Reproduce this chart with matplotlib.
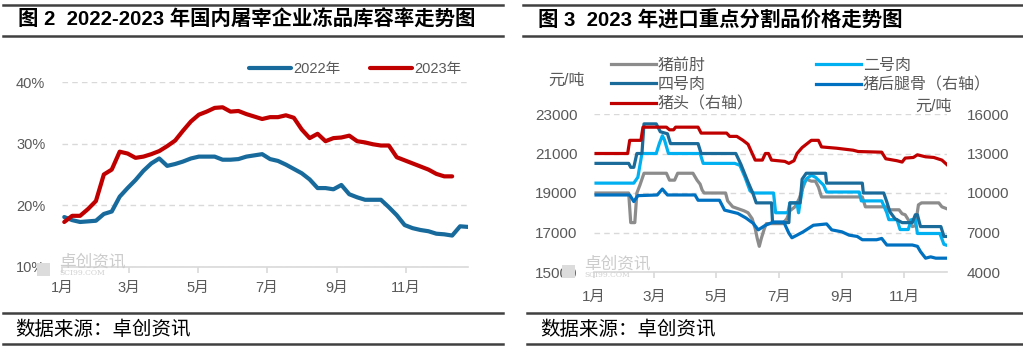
import numpy as np
import matplotlib.pyplot as plt
from matplotlib.lines import Line2D
from matplotlib.patches import Rectangle

plt.rcParams['font.family'] = ['Liberation Sans', 'Noto Sans CJK SC']

# 图2 周度冻品库容率(%)，第1周约为1月3日
first_day = 3
rate_2022 = [18.1, 17.6, 17.3, 17.4, 17.5, 18.6, 19.0, 21.4, 22.8, 24.1,
             25.6, 26.8, 27.6, 26.4, 26.7, 27.1, 27.6, 27.9, 27.9, 27.9,
             27.4, 27.4, 27.5, 27.9, 28.1, 28.3, 27.5, 27.2, 26.6, 25.9,
             25.2, 24.2, 22.8, 22.8, 22.6, 23.3, 21.8, 21.3, 20.9, 20.9,
             20.9, 19.7, 18.4, 16.8, 16.3, 16.0, 15.8, 15.4, 15.3, 15.1,
             16.6, 16.5]
rate_2023 = [17.3, 18.3, 18.3, 19.4, 20.7, 25.0, 25.8, 28.7, 28.4, 27.7,
             27.9, 28.3, 28.8, 29.6, 30.5, 32.1, 33.6, 34.7, 35.2, 35.8,
             35.9, 35.2, 35.3, 34.8, 34.4, 34.0, 34.3, 34.3, 34.6, 34.2,
             32.3, 30.9, 31.6, 30.4, 30.9, 31.0, 31.3, 30.4, 30.2, 29.9,
             29.7, 29.7, 27.8, 27.3, 26.8, 26.3, 25.8, 25.1, 24.7, 24.7]

# 图3 价格(元/吨)，x为年内日序
qianzhou_day = [3, 35, 37, 41, 43, 46, 50, 72, 75, 80, 83, 98, 102, 105, 107, 109, 130, 132, 137,
                148, 152, 156, 159, 161, 163, 165, 168, 170, 176, 186, 190, 193, 198, 202, 206,
                209, 214, 218, 221, 224, 264, 267, 287, 290, 300, 303, 306, 309, 313, 316, 319,
                322, 339, 342, 347]
qianzhou = [19000, 19000, 17500, 17500, 19000, 19400, 20000, 20000, 19650, 19650, 20000, 20000,
            19650, 19450, 19150, 19000, 19000, 18600, 18300, 18100, 18000, 17700, 17200, 16700,
            16300, 16700, 17200, 17450, 17450, 17450, 17700, 18100, 18300, 18700, 19300, 19700,
            19600, 19600, 19300, 18800, 18800, 18300, 18300, 18150, 18150, 17950, 17900, 17650,
            17300, 17350, 18400, 18500, 18500, 18300, 18200]

erhao_day = [3, 40, 44, 48, 62, 65, 68, 70, 74, 105, 108, 139, 144, 149, 154, 158, 177, 179, 191,
             193, 200, 201.5, 203, 206, 210, 214, 218, 222, 226, 229, 261, 263, 283, 288, 290,
             298, 301, 309, 312, 316, 318, 340, 344, 347]
erhao = [19500, 19500, 19800, 21000, 21000, 21500, 21900, 21700, 21000, 21000, 20500, 20500,
         20400, 19800, 19100, 19000, 19000, 18000, 18000, 18500, 18500, 18000, 18500, 19450,
         19750, 19900, 19800, 19600, 19400, 19050, 19050, 18600, 18600, 18000, 17650, 17650,
         17150, 17150, 17650, 17650, 16950, 16950, 16400, 16350]

sihao_day = [3, 35, 37, 40, 43, 48, 50, 62, 66, 73, 76, 103, 106, 140, 145, 152, 157, 160, 175,
             176, 192, 193, 203, 205, 209, 228, 229, 264, 265, 285, 288, 291, 296, 303, 313, 316,
             318, 321, 341, 344, 347]
sihao = [20500, 20500, 20300, 20300, 21000, 21000, 22500, 22500, 22100, 22000, 21500, 21500,
         21000, 21000, 20450, 19550, 18950, 18500, 18500, 17500, 17500, 18500, 18500, 19700,
         20000, 20000, 19500, 19500, 19000, 19000, 18550, 18050, 17700, 17500, 17500, 17900,
         17900, 17300, 17300, 16800, 16800]

houtui_day = [3, 36, 40, 44, 63, 68, 73, 100, 103, 124, 129, 142, 150, 157, 162, 169, 177, 187,
              192, 195, 200, 206, 216, 229, 234, 244, 251, 259, 264, 278, 283, 288, 313, 318,
              321, 326, 331, 336, 347]
houtui = [9850, 9850, 9350, 9800, 9850, 10300, 9850, 9850, 9450, 9450, 8700, 8450, 8100, 7700,
          7200, 7550, 7800, 7800, 6950, 6600, 6800, 7050, 7550, 7650, 7200, 7050, 6800, 6700,
          6450, 6450, 6550, 6050, 6050, 5950, 5550, 5050, 5150, 5050, 5050]

zhutou_day = [3, 34, 36, 47, 49, 72, 75, 79, 81, 103, 106, 131, 134, 141, 147, 152, 159, 166,
              169, 172, 175, 188, 192, 197, 200, 205, 214, 221, 224, 239, 255, 260, 283, 287,
              298, 303, 306, 314, 318, 326, 334, 342, 347]
zhutou = [13000, 13000, 14000, 14000, 15000, 15000, 14800, 14800, 15000, 15000, 14550, 14550,
          14300, 14300, 14000, 13700, 12500, 12500, 13000, 13000, 12500, 12400, 12250, 12450,
          13000, 13450, 14000, 14000, 13500, 13400, 13250, 13150, 13100, 12600, 12450, 12350,
          12650, 12700, 12900, 12750, 12700, 12500, 12150]

month_days = [1, 60, 121, 182, 244, 305]
month_labels = ['1月', '3月', '5月', '7月', '9月', '11月']

W, H = 1023, 352
fig = plt.figure(figsize=(W / 100, H / 100), dpi=100)
grey_txt = '#595959'
grid_c = '#d9d9d9'


def style_axis(ax, fs):
    for s in ['top', 'right', 'left']:
        ax.spines[s].set_visible(False)
    ax.spines['bottom'].set_color(grid_c)
    ax.spines['bottom'].set_linewidth(1.2)
    ax.set_xticks(month_days)
    ax.set_xticklabels(month_labels)
    ax.tick_params(axis='x', colors=grid_c, length=4, width=1.2, labelcolor=grey_txt,
                   labelsize=fs, pad=6)
    ax.tick_params(axis='y', length=0, labelcolor=grey_txt, labelsize=fs, pad=12)
    ax.grid(axis='y', color=grid_c, linestyle=(0, (4, 3)), linewidth=1)
    ax.set_axisbelow(True)


# ---------- 图2 ----------
ax1 = fig.add_axes([62 / W, 85 / H, 406 / W, 185 / H])
days22 = [first_day + 7 * i for i in range(len(rate_2022))]
days23 = [first_day + 7 * i for i in range(len(rate_2023))]
ax1.plot(days22, rate_2022, color='#176a9b', lw=3, label='2022年', solid_capstyle='round')
ax1.plot(days23, rate_2023, color='#c00000', lw=3, label='2023年', solid_capstyle='round')
ax1.set_xlim(1, 360)
ax1.set_ylim(10, 40)
ax1.set_yticks([10, 20, 30, 40])
ax1.set_yticklabels(['10%', '20%', '30%', '40%'])
style_axis(ax1, 10.5)
ax1.legend(ncol=2, loc='center', bbox_to_anchor=(355 / W, 1 - 69 / H),
           bbox_transform=fig.transFigure, frameon=False, fontsize=10.5,
           handlelength=2.9, handletextpad=0.15, columnspacing=2.0, labelcolor=grey_txt)

# ---------- 图3 ----------
ax2 = fig.add_axes([594 / W, 80 / H, 353 / W, 158 / H])
ax2r = ax2.twinx()
l1, = ax2.plot(qianzhou_day, qianzhou, color='#8c8c8c', lw=2.3, label='猪前肘')
l2, = ax2.plot(erhao_day, erhao, color='#00b0f0', lw=2.3, label='二号肉')
l3, = ax2.plot(sihao_day, sihao, color='#1a6a9a', lw=2.3, label='四号肉')
l4, = ax2r.plot(houtui_day, houtui, color='#0070c0', lw=2.3, label='猪后腿骨（右轴）')
l5, = ax2r.plot(zhutou_day, zhutou, color='#c00000', lw=2.3, label='猪头（右轴）')
ax2.set_xlim(1, 347)
ax2.set_ylim(15000, 23000)
ax2.set_yticks(range(15000, 23001, 2000))
ax2r.set_ylim(4000, 16000)
ax2r.set_yticks(range(4000, 16001, 3000))
style_axis(ax2, 11)
ax2.tick_params(axis='x', pad=9)
for s in ['top', 'right', 'left', 'bottom']:
    ax2r.spines[s].set_visible(False)
ax2r.tick_params(axis='y', length=0, labelcolor=grey_txt, labelsize=11, pad=14)
ax2.legend(handles=[l1, l3, l5, l2, l4], ncol=2, loc='upper left',
           bbox_to_anchor=(603 / W, 1 - 50 / H), bbox_transform=fig.transFigure,
           frameon=False, fontsize=11.5, handlelength=2.8, handletextpad=0.1,
           columnspacing=3.95, labelspacing=0.25, borderpad=0, labelcolor=grey_txt)
fig.text(585 / W, 1 - 80 / H, '元/吨', ha='right', va='center', fontsize=11.5, color=grey_txt)
fig.text(915 / W, 1 - 106 / H, '元/吨', ha='left', va='center', fontsize=11.5, color=grey_txt)

# ---------- 水印 ----------
for x0, y0 in [(37, 266), (562, 268)]:
    fig.add_artist(Rectangle((x0 / W, 1 - (y0 + 10) / H), 13 / W, 13 / H,
                             transform=fig.transFigure, color='#dcdcdc', lw=0))
    fig.text((x0 + 22) / W, 1 - (y0 - 4) / H, '卓创资讯', fontsize=12, color='#cccccc',
             va='center', ha='left')
    fig.text((x0 + 22) / W, 1 - (y0 + 7) / H, 'SCI99.COM', fontsize=5.5, color='#d0d0d0',
             va='center', ha='left', family='DejaVu Serif')

# ---------- 标题与来源 ----------
fig.text(18 / W, 1 - 20 / H, '图 2  2022-2023 年国内屠宰企业冻品库容率走势图',
         fontsize=14.7, fontweight='bold', va='center', ha='left')
fig.text(538 / W, 1 - 20 / H, '图 3  2023 年进口重点分割品价格走势图',
         fontsize=14.7, fontweight='bold', va='center', ha='left')
fig.text(15 / W, 1 - 330 / H, '数据来源：卓创资讯', fontsize=14, va='center', ha='left')
fig.text(540 / W, 1 - 330 / H, '数据来源：卓创资讯', fontsize=14, va='center', ha='left')

for x_a, x_b in [(3, 503), (523, 1023)]:
    for y in [4.5, 35.5]:
        fig.add_artist(Line2D([x_a / W, x_b / W], [1 - y / H] * 2, lw=1.8, color='#404040'))
for x_a, x_b in [(3, 503), (527, 1023)]:
    for y in [313, 344]:
        fig.add_artist(Line2D([x_a / W, x_b / W], [1 - y / H] * 2, lw=1.8, color='#404040'))

fig.savefig('out.png', dpi=100)
